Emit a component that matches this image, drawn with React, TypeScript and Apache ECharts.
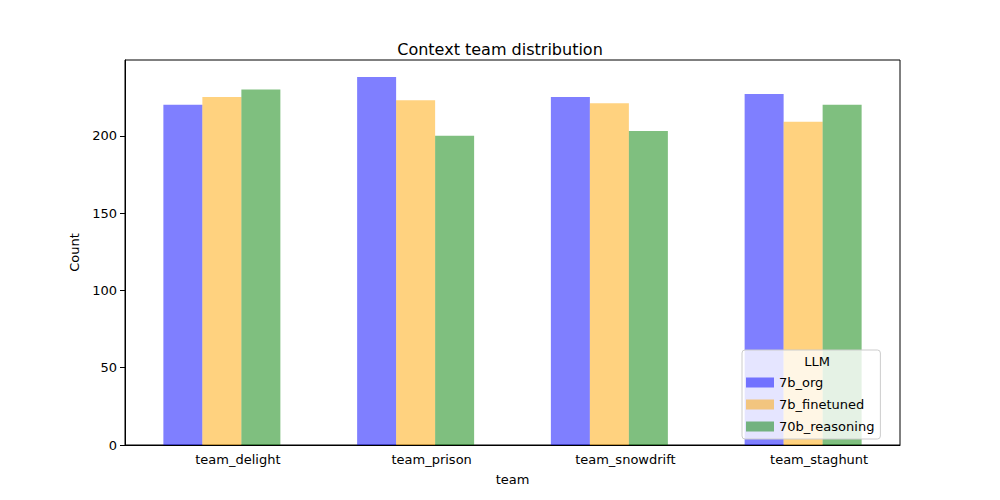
import { useEffect, useRef } from 'react'
import * as echarts from 'echarts'

const categories = ['team_delight', 'team_prison', 'team_snowdrift', 'team_staghunt']
const seriesNames = ['7b_org', '7b_finetuned', '70b_reasoning']
const org = [220, 238, 225, 227]
const finetuned = [225, 223, 221, 209]
const reasoning = [230, 200, 203, 220]
const colors = ['rgba(0,0,255,0.5)', 'rgba(255,165,0,0.5)', 'rgba(0,128,0,0.5)']

export default function App() {
  const ref = useRef<HTMLDivElement>(null)

  useEffect(() => {
    if (!ref.current) return
    const chart = echarts.init(ref.current, null, { renderer: 'svg' })
    const font = 'DejaVu Sans'
    const values = [org, finetuned, reasoning]
    chart.setOption({
      animation: false,
      textStyle: { fontFamily: font },
      title: {
        text: 'Context team distribution',
        left: 'center',
        top: 36,
        textStyle: { fontFamily: font, fontSize: 16, fontWeight: 'normal', color: '#000' }
      },
      grid: { left: 125, top: 60, width: 775, height: 385, show: true, borderColor: '#000', borderWidth: 1, backgroundColor: 'transparent' },
      xAxis: {
        type: 'category',
        data: categories,
        name: 'team',
        nameLocation: 'middle',
        nameGap: 28,
        nameTextStyle: { fontSize: 13, color: '#000' },
        axisLine: { lineStyle: { color: '#000' } },
        axisTick: { alignWithLabel: true, lineStyle: { color: '#000' } },
        axisLabel: { color: '#000', fontSize: 13, padding: [0, 0, 0, 32] }
      },
      yAxis: {
        type: 'value',
        min: 0,
        max: 249,
        interval: 50,
        name: 'Count',
        nameLocation: 'middle',
        nameGap: 42,
        nameTextStyle: { fontSize: 13, color: '#000' },
        splitLine: { show: false },
        axisLine: { show: true, lineStyle: { color: '#000' } },
        axisTick: { show: true, lineStyle: { color: '#000' } },
        axisLabel: { color: '#000', fontSize: 13, showMaxLabel: false }
      },
      legend: {
        orient: 'vertical',
        left: 742,
        top: 350,
        padding: [26, 6, 6, 4],
        backgroundColor: 'rgba(255,255,255,0.8)',
        borderColor: '#ccc',
        borderWidth: 1,
        borderRadius: 3,
        z: 50,
        itemWidth: 28,
        itemHeight: 10,
        itemGap: 9,
        icon: 'rect',
        textStyle: { fontSize: 13, color: '#000' },
        data: seriesNames.map((name, i) => ({ name, itemStyle: { color: colors[i] } }))
      },
      graphic: [
        {
          type: 'text',
          x: 817,
          y: 361,
          z: 100,
          style: { text: 'LLM', fontFamily: font, fontSize: 13, fill: '#000', align: 'center', verticalAlign: 'middle' }
        }
      ],
      series: seriesNames.map((name, i) => ({
        name,
        type: 'bar',
        data: values[i],
        barWidth: 39,
        barGap: '0%',
        itemStyle: { color: colors[i] }
      }))
    })
    return () => chart.dispose()
  }, [])

  return <div ref={ref} style={{ position: 'absolute', left: 0, top: 0, width: 1000, height: 500 }} />
}
